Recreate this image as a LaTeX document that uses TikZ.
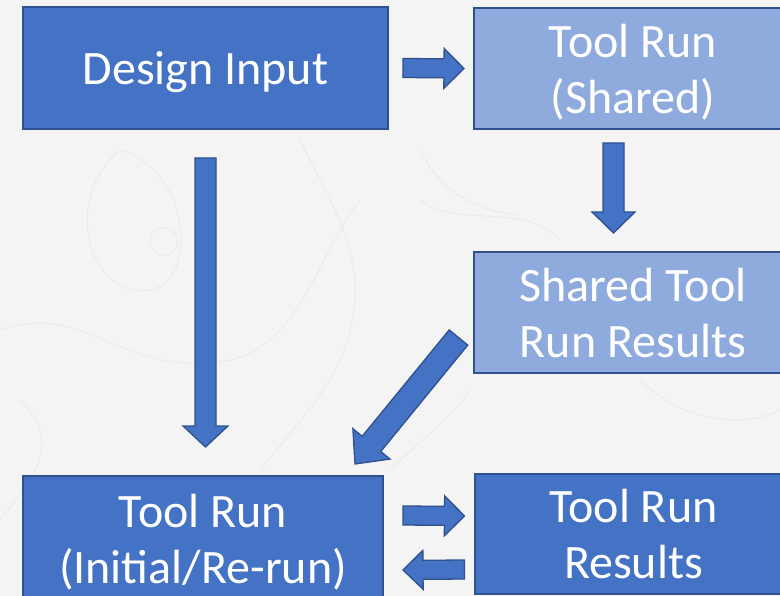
\documentclass[tikz,border=0pt]{standalone}
\usepackage{fontspec}
\setmainfont{Carlito}
\usetikzlibrary{calc}

\definecolor{boxdark}{HTML}{4472C4}
\definecolor{boxlight}{HTML}{8FAADC}
\definecolor{boxline}{HTML}{2F528F}
\definecolor{paper}{HTML}{F4F4F4}
\definecolor{contour}{HTML}{EAEAEA}

\tikzset{
  box/.style={draw=boxline, line width=2pt, rectangle, text=white,
    align=center, inner sep=0pt, text depth=0pt,
    font=\fontsize{48}{56}\selectfont},
  darkbox/.style={box, fill=boxdark},
  lightbox/.style={box, fill=boxlight},
  bsw/.store in=\bsw, bhw/.store in=\bhw, bhl/.store in=\bhl,
  bsw=9.5, bhw=20, bhl=20,
  % block arrow from the start point to the tip
  blockarrow/.style={draw=boxline, fill=boxdark, line width=1.3pt, line join=miter,
    to path={
      let \p1=(\tikztostart), \p2=(\tikztotarget),
          \p3=($(\p2)!\bhl pt!(\p1)$) in
      ($(\p1)!\bsw pt!90:(\p2)$) -- ($(\p3)!\bsw pt!-90:(\p1)$)
      -- ($(\p3)!\bhw pt!-90:(\p1)$) -- (\p2)
      -- ($(\p3)!\bhw pt!90:(\p1)$) -- ($(\p3)!\bsw pt!90:(\p1)$)
      -- ($(\p1)!\bsw pt!-90:(\p2)$) -- cycle}},
  contourline/.style={draw=contour, line width=0.9pt}
}

\begin{document}
\begin{tikzpicture}[x=1pt, y=-1pt]
  \useasboundingbox (0,0) rectangle (780,596);
  \clip (0,0) rectangle (780,596);
  \fill[paper] (0,0) rectangle (780,596);

  % faint topographic texture
  \draw[contourline] (120,150) .. controls (60,200) and (90,300) .. (150,290)
                     .. controls (200,280) and (190,170) .. (120,150);
  \draw[contourline] (155,230) .. controls (140,245) and (160,265) .. (175,250)
                     .. controls (185,238) and (168,222) .. (155,230);
  \draw[contourline] (0,330) .. controls (90,300) and (120,380) .. (230,360)
                     .. controls (300,345) and (320,250) .. (360,200);
  \draw[contourline] (300,140) .. controls (330,200) and (370,260) .. (350,330)
                     .. controls (340,380) and (300,420) .. (260,470);
  \draw[contourline] (420,200) .. controls (460,230) and (520,200) .. (560,240);
  \draw[contourline] (0,520) .. controls (40,470) and (60,440) .. (20,400);
  \draw[contourline] (420,150) .. controls (440,190) and (470,210) .. (520,215);
  \draw[contourline] (640,380) .. controls (680,420) and (740,430) .. (780,410);
  \draw[contourline] (390,470) .. controls (420,440) and (450,420) .. (470,390);

  % boxes
  \node[darkbox, minimum width=365pt, minimum height=122pt] (di) at (205.5,68) {Design Input};
  \node[lightbox, minimum width=318pt, minimum height=121pt] (ts) at (633,68.5) {Tool Run\\(Shared)};
  \node[lightbox, minimum width=318pt, minimum height=121pt] (sr) at (633,312.5) {Shared Tool\\Run Results};
  \node[darkbox, minimum width=360pt, minimum height=126pt] (tr) at (203,539) {Tool Run\\(Initial/Re-run)};
  \node[darkbox, minimum width=317pt, minimum height=120pt] (rr) at (633.5,534) {Tool Run\\Results};

  % arrow end points
  \coordinate (a1s) at ($(di.east)+(14,0)$);
  \coordinate (a1e) at ($(ts.west)+(-9,0)$);
  \coordinate (a2s) at ($(di.south)+(0,28)$);
  \coordinate (a2e) at ($(tr.north)+(2.5,-28)$);
  \coordinate (a3s) at ($(ts.south)+(-19.5,13)$);
  \coordinate (a3e) at ($(sr.north)+(-19.5,-18)$);
  \coordinate (a4s) at (458.5,337.5);
  \coordinate (a4e) at (355,464);
  \coordinate (a5s) at ($(tr.east)+(19,-23.5)$);
  \coordinate (a5e) at ($(rr.west)+(-9.5,-18)$);
  \coordinate (a6s) at ($(rr.west)+(-9.5,35.5)$);
  \coordinate (a6e) at ($(tr.east)+(19,31)$);

  % block arrows
  \draw[blockarrow] (a1s) to (a1e);
  \draw[blockarrow, bsw=10.5, bhw=22.5, bhl=21] (a2s) to (a2e);
  \draw[blockarrow, bsw=10.5, bhw=21.5, bhl=21] (a3s) to (a3e);
  \draw[blockarrow, bsw=12, bhw=24, bhl=26] (a4s) to (a4e);
  \draw[blockarrow] (a5s) to (a5e);
  \draw[blockarrow, bhw=19.5] (a6s) to (a6e);
\end{tikzpicture}
\end{document}
